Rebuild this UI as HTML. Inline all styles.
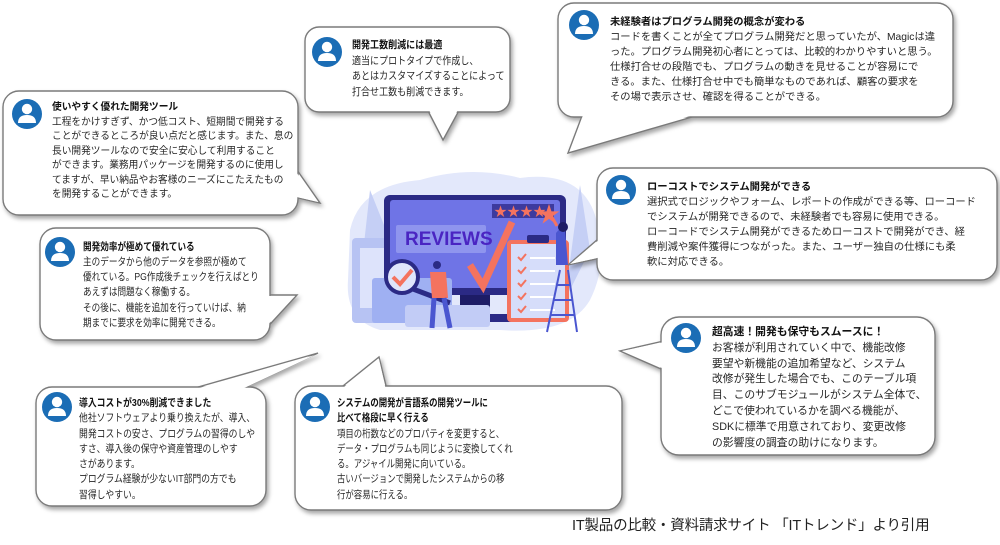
<!DOCTYPE html>
<html><head><meta charset="utf-8">
<style>
html,body{margin:0;padding:0;background:#fff;}
#c{position:relative;width:1000px;height:545px;overflow:hidden;background:#fff;font-family:"Liberation Sans","Noto Sans CJK JP",sans-serif;color:#222;}
svg{position:absolute;left:0;top:0;}
.t{position:absolute;white-space:nowrap;font-size:10.3px;line-height:14.5px;color:#262626;}
.t b{font-weight:bold;color:#111;}
.n{font-size:10.5px;transform:scaleX(0.82);transform-origin:0 0;}
</style></head><body><div id="c">
<svg width="1000" height="545" viewBox="0 0 1000 545">
<defs>
<g id="ic"><circle r="15" fill="#1b6db5"/><circle cy="-5" r="5.2" fill="#fff"/><path d="M-9,9 Q-9,1 0,1 Q9,1 9,9 Z" fill="#fff"/></g>
</defs>
<!-- illustration -->
<g>
<path d="M350,230 Q360,185 420,180 Q470,165 520,178 Q580,170 595,215 Q610,260 590,300 Q570,335 500,330 L380,330 Q345,320 348,280 Z" fill="#e3e8fb"/>
<path d="M370,190 L390,240 L360,280 Z" fill="#c5cff5"/>
<path d="M580,185 L590,250 L565,300 Z" fill="#c5cff5"/>
<rect x="352" y="238" width="60" height="85" rx="4" fill="#b7c3f3"/>
<rect x="360" y="248" width="45" height="60" fill="#dde3fb"/>
<rect x="384" y="195" width="182" height="100" rx="6" fill="#2b2a85"/>
<rect x="390" y="200" width="170" height="88" rx="3" fill="#6f74e6"/>
<rect x="396" y="225" width="90" height="28" rx="2" fill="#8f95ee"/>
<text x="405" y="245" font-family="Liberation Sans" font-weight="bold" font-size="19" fill="#4a25c2">REVIEWS</text>
<rect x="492" y="204" width="62" height="14" fill="#3d3a9e"/>
<text x="494" y="216" font-size="13" fill="#f4735f">★★★★</text>
<text x="538" y="222" font-size="22" fill="#f4735f">★</text>
<path d="M470,265 L483,286 L512,222" stroke="#f4735f" stroke-width="7" fill="none"/>
<rect x="460" y="295" width="30" height="22" fill="#1d1c66"/>
<rect x="440" y="314" width="72" height="8" fill="#2b2a85"/>
<rect x="372" y="278" width="80" height="45" rx="3" fill="#9fb0f2"/>
<rect x="405" y="305" width="85" height="22" rx="3" fill="#c2ccf6"/>
<circle cx="402" cy="277" r="16" fill="#dfe5fb" stroke="#2b2a85" stroke-width="4"/>
<path d="M393,277 L400,284 L412,270" stroke="#f4735f" stroke-width="4" fill="none"/>
<path d="M413,289 L450,303" stroke="#2b2a85" stroke-width="5"/>
<circle cx="437" cy="265" r="4" fill="#2b2a85"/>
<path d="M430,272 L446,272 L448,298 L432,298 Z" fill="#f4735f"/>
<path d="M434,298 L432,328 M444,298 L450,328" stroke="#4a56d0" stroke-width="5"/>
<rect x="507" y="240" width="62" height="82" rx="4" fill="#f4735f"/>
<rect x="511" y="244" width="54" height="74" fill="#d6ddfa"/>
<rect x="527" y="235" width="22" height="8" rx="2" fill="#2b2a85"/>
<g stroke="#f4735f" stroke-width="2" fill="none">
<path d="M518,257 l3,3 l5,-6 M518,270 l3,3 l5,-6 M518,283 l3,3 l5,-6 M518,296 l3,3 l5,-6 M518,309 l3,3 l5,-6"/></g>
<g stroke="#fff" stroke-width="2"><path d="M530,258 h25 M530,271 h25 M530,284 h25 M530,297 h25 M530,310 h25"/></g>
<path d="M547,332 L560,270 M577,332 L568,270 M551,315 h23 M554,300 h18 M557,285 h13" stroke="#4a56d0" stroke-width="2"/>
<path d="M556,233 Q562,225 565,230 L568,265 L556,265 Z" fill="#4a56d0"/>
<circle cx="563" cy="227" r="5" fill="#1d1c66"/>
<path d="M557,226 L548,210" stroke="#f4735f" stroke-width="3"/>
</g>
<!-- bubbles -->
<g style="filter:drop-shadow(2px 3px 2px rgba(0,0,0,0.35))" fill="#fff" stroke="#7a7a7a" stroke-width="1.4">
<polygon points="290,160 320,203 290,196"/><rect x="3" y="91" width="295" height="124" rx="16"/><polygon points="288,161 318,202 288,195" stroke="none"/>
<polygon points="425,105 443,140 462,105"/><rect x="305" y="27" width="205" height="85" rx="14"/><polygon points="426,104 443,138 461,104" stroke="none"/>
<polygon points="585,108 568,153 723,108"/><rect x="558" y="3" width="395" height="114" rx="16"/><polygon points="586,107 570,151 721,107" stroke="none"/>
<polygon points="605,233 568,265 605,257"/><rect x="597" y="168" width="400" height="112" rx="16"/><polygon points="606,234 570,264 606,256" stroke="none"/>
<polygon points="262,295 297,295 262,333"/><rect x="40" y="228" width="230" height="112" rx="16"/><polygon points="261,296 295,296 261,332" stroke="none"/>
<polygon points="170,395 318,353 228,395"/><rect x="36" y="387" width="230" height="119" rx="16"/><polygon points="171,396 315,355 227,396" stroke="none"/>
<polygon points="333,394 379,357 388,394"/><rect x="295" y="386" width="327" height="124" rx="16"/><polygon points="334,395 379,359 387,395" stroke="none"/>
<polygon points="668,340 620,351 668,372"/><rect x="661" y="317" width="274" height="138" rx="18"/><polygon points="669,341 622,351 669,371" stroke="none"/>
</g>
<use href="#ic" x="27" y="114"/>
<use href="#ic" x="327" y="52"/>
<use href="#ic" x="584" y="25"/>
<use href="#ic" x="621" y="190"/>
<use href="#ic" x="60" y="252"/>
<use href="#ic" x="57" y="407"/>
<use href="#ic" x="315" y="407"/>
<use href="#ic" x="686" y="338"/>
</svg>

<div class="t" style="left:52px;top:101px;font-size:10px;transform:scaleX(0.97);transform-origin:0 0;"><b>使いやすく優れた開発ツール</b><br>工程をかけすぎず、かつ低コスト、短期間で開発する<br>ことができるところが良い点だと感じます。また、息の<br>長い開発ツールなので安全に安心して利用すること<br>ができます。業務用パッケージを開発するのに使用し<br>てますが、早い納品やお客様のニーズにこたえたもの<br>を開発することができます。</div>

<div class="t n" style="left:352px;top:38px;line-height:15.5px;transform:scaleX(0.86);"><b>開発工数削減には最適</b><br>適当にプロトタイプで作成し、<br>あとはカスタマイズすることによって<br>打合せ工数も削減できます。</div>

<div class="t" style="left:610px;top:14.5px;line-height:15.1px;"><b>未経験者はプログラム開発の概念が変わる</b><br>コードを書くことが全てプログラム開発だと思っていたが、Magicは違<br>った。プログラム開発初心者にとっては、比較的わかりやすいと思う。<br>仕様打合せの段階でも、プログラムの動きを見せることが容易にで<br>きる。また、仕様打合せ中でも簡単なものであれば、顧客の要求を<br>その場で表示させ、確認を得ることができる。</div>

<div class="t" style="left:647px;top:179.5px;line-height:15.1px;"><b>ローコストでシステム開発ができる</b><br>選択式でロジックやフォーム、レポートの作成ができる等、ローコード<br>でシステムが開発できるので、未経験者でも容易に使用できる。<br>ローコードでシステム開発ができるためローコストで開発ができ、経<br>費削減や案件獲得につながった。また、ユーザー独自の仕様にも柔<br>軟に対応できる。</div>

<div class="t n" style="left:83px;top:239.5px;line-height:15.3px;"><b>開発効率が極めて優れている</b><br>主のデータから他のデータを参照が極めて<br>優れている。PG作成後チェックを行えばとり<br>あえずは問題なく稼働する。<br>その後に、機能を追加を行っていけば、納<br>期までに要求を効率に開発できる。</div>

<div class="t n" style="left:79px;top:396px;line-height:15.3px;transform:scaleX(0.84);"><b>導入コストが30%削減できました</b><br>他社ソフトウェアより乗り換えたが、導入、<br>開発コストの安さ、プログラムの習得のしや<br>すさ、導入後の保守や資産管理のしやす<br>さがあります。<br>プログラム経験が少ないIT部門の方でも<br>習得しやすい。</div>

<div class="t n" style="left:337px;top:396px;line-height:15.3px;transform:scaleX(0.8);"><b>システムの開発が言語系の開発ツールに<br>比べて格段に早く行える</b><br>項目の桁数などのプロパティを変更すると、<br>データ・プログラムも同じように変換してくれ<br>る。アジャイル開発に向いている。<br>古いバージョンで開発したシステムからの移<br>行が容易に行える。</div>

<div class="t" style="left:712px;top:325px;line-height:15.8px;font-size:10.8px;"><b>超高速！開発も保守もスムースに！</b><br>お客様が利用されていく中で、機能改修<br>要望や新機能の追加希望など、システム<br>改修が発生した場合でも、このテーブル項<br>目、このサブモジュールがシステム全体で、<br>どこで使われているかを調べる機能が、<br>SDKに標準で用意されており、変更改修<br>の影響度の調査の助けになります。</div>

<div class="t" style="left:572px;top:516px;font-size:14.5px;line-height:20px;letter-spacing:-0.2px;color:#222;">IT製品の比較・資料請求サイト 「ITトレンド」より引用</div>
</div></body></html>
